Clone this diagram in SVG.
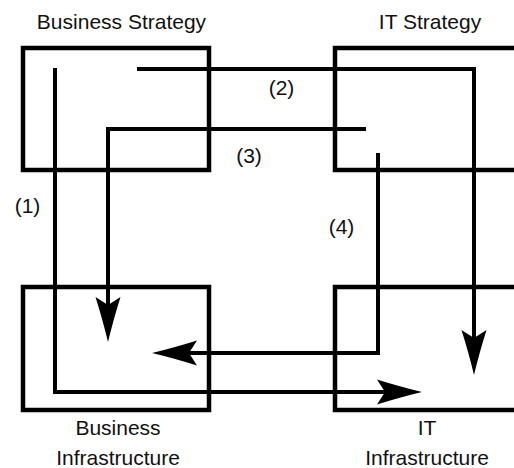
<svg xmlns="http://www.w3.org/2000/svg" width="514" height="468" viewBox="0 0 514 468">
  <style>
    .box { fill: none; stroke: #000; stroke-width: 4.5; }
    .link { fill: none; stroke: #000; stroke-width: 4; stroke-linejoin: miter; }
    .lbl { font-family: "Liberation Sans", Arial, sans-serif; font-size: 21px; fill: #111; text-anchor: middle; }
  </style>
  <defs>
    <marker id="barb" viewBox="0 -13 46 26" markerWidth="46" markerHeight="26" refX="10" refY="0" markerUnits="userSpaceOnUse" orient="auto">
      <path d="M0,-12.5 Q24,-5 45,0 Q24,5 0,12.5 L8,0 Z" fill="#000"/>
    </marker>
  </defs>
  <rect width="514" height="468" fill="#fff"/>

  <g id="business-strategy">
    <rect class="box" x="23" y="48" width="186" height="122"/>
    <text class="lbl" x="121.5" y="29">Business Strategy</text>
  </g>
  <g id="it-strategy">
    <rect class="box" x="335" y="48" width="200" height="122"/>
    <text class="lbl" x="430" y="29">IT Strategy</text>
  </g>
  <g id="business-infrastructure">
    <rect class="box" x="23" y="287" width="186" height="123"/>
    <text class="lbl" x="118" y="435">Business</text>
    <text class="lbl" x="118" y="465">Infrastructure</text>
  </g>
  <g id="it-infrastructure">
    <rect class="box" x="335" y="287" width="200" height="123"/>
    <text class="lbl" x="427" y="435">IT</text>
    <text class="lbl" x="427" y="465">Infrastructure</text>
  </g>

  <g id="connectors">
    <path class="link" d="M55,68 V392 H387" marker-end="url(#barb)"/>
    <path class="link" d="M137,69 H474 V340" marker-end="url(#barb)"/>
    <path class="link" d="M366,129 H108 V307" marker-end="url(#barb)"/>
    <path class="link" d="M378,153 V353 H187" marker-end="url(#barb)"/>
    <text class="lbl" x="27.5" y="213">(1)</text>
    <text class="lbl" x="281.5" y="95">(2)</text>
    <text class="lbl" x="249" y="163">(3)</text>
    <text class="lbl" x="341.5" y="234">(4)</text>
  </g>
</svg>
